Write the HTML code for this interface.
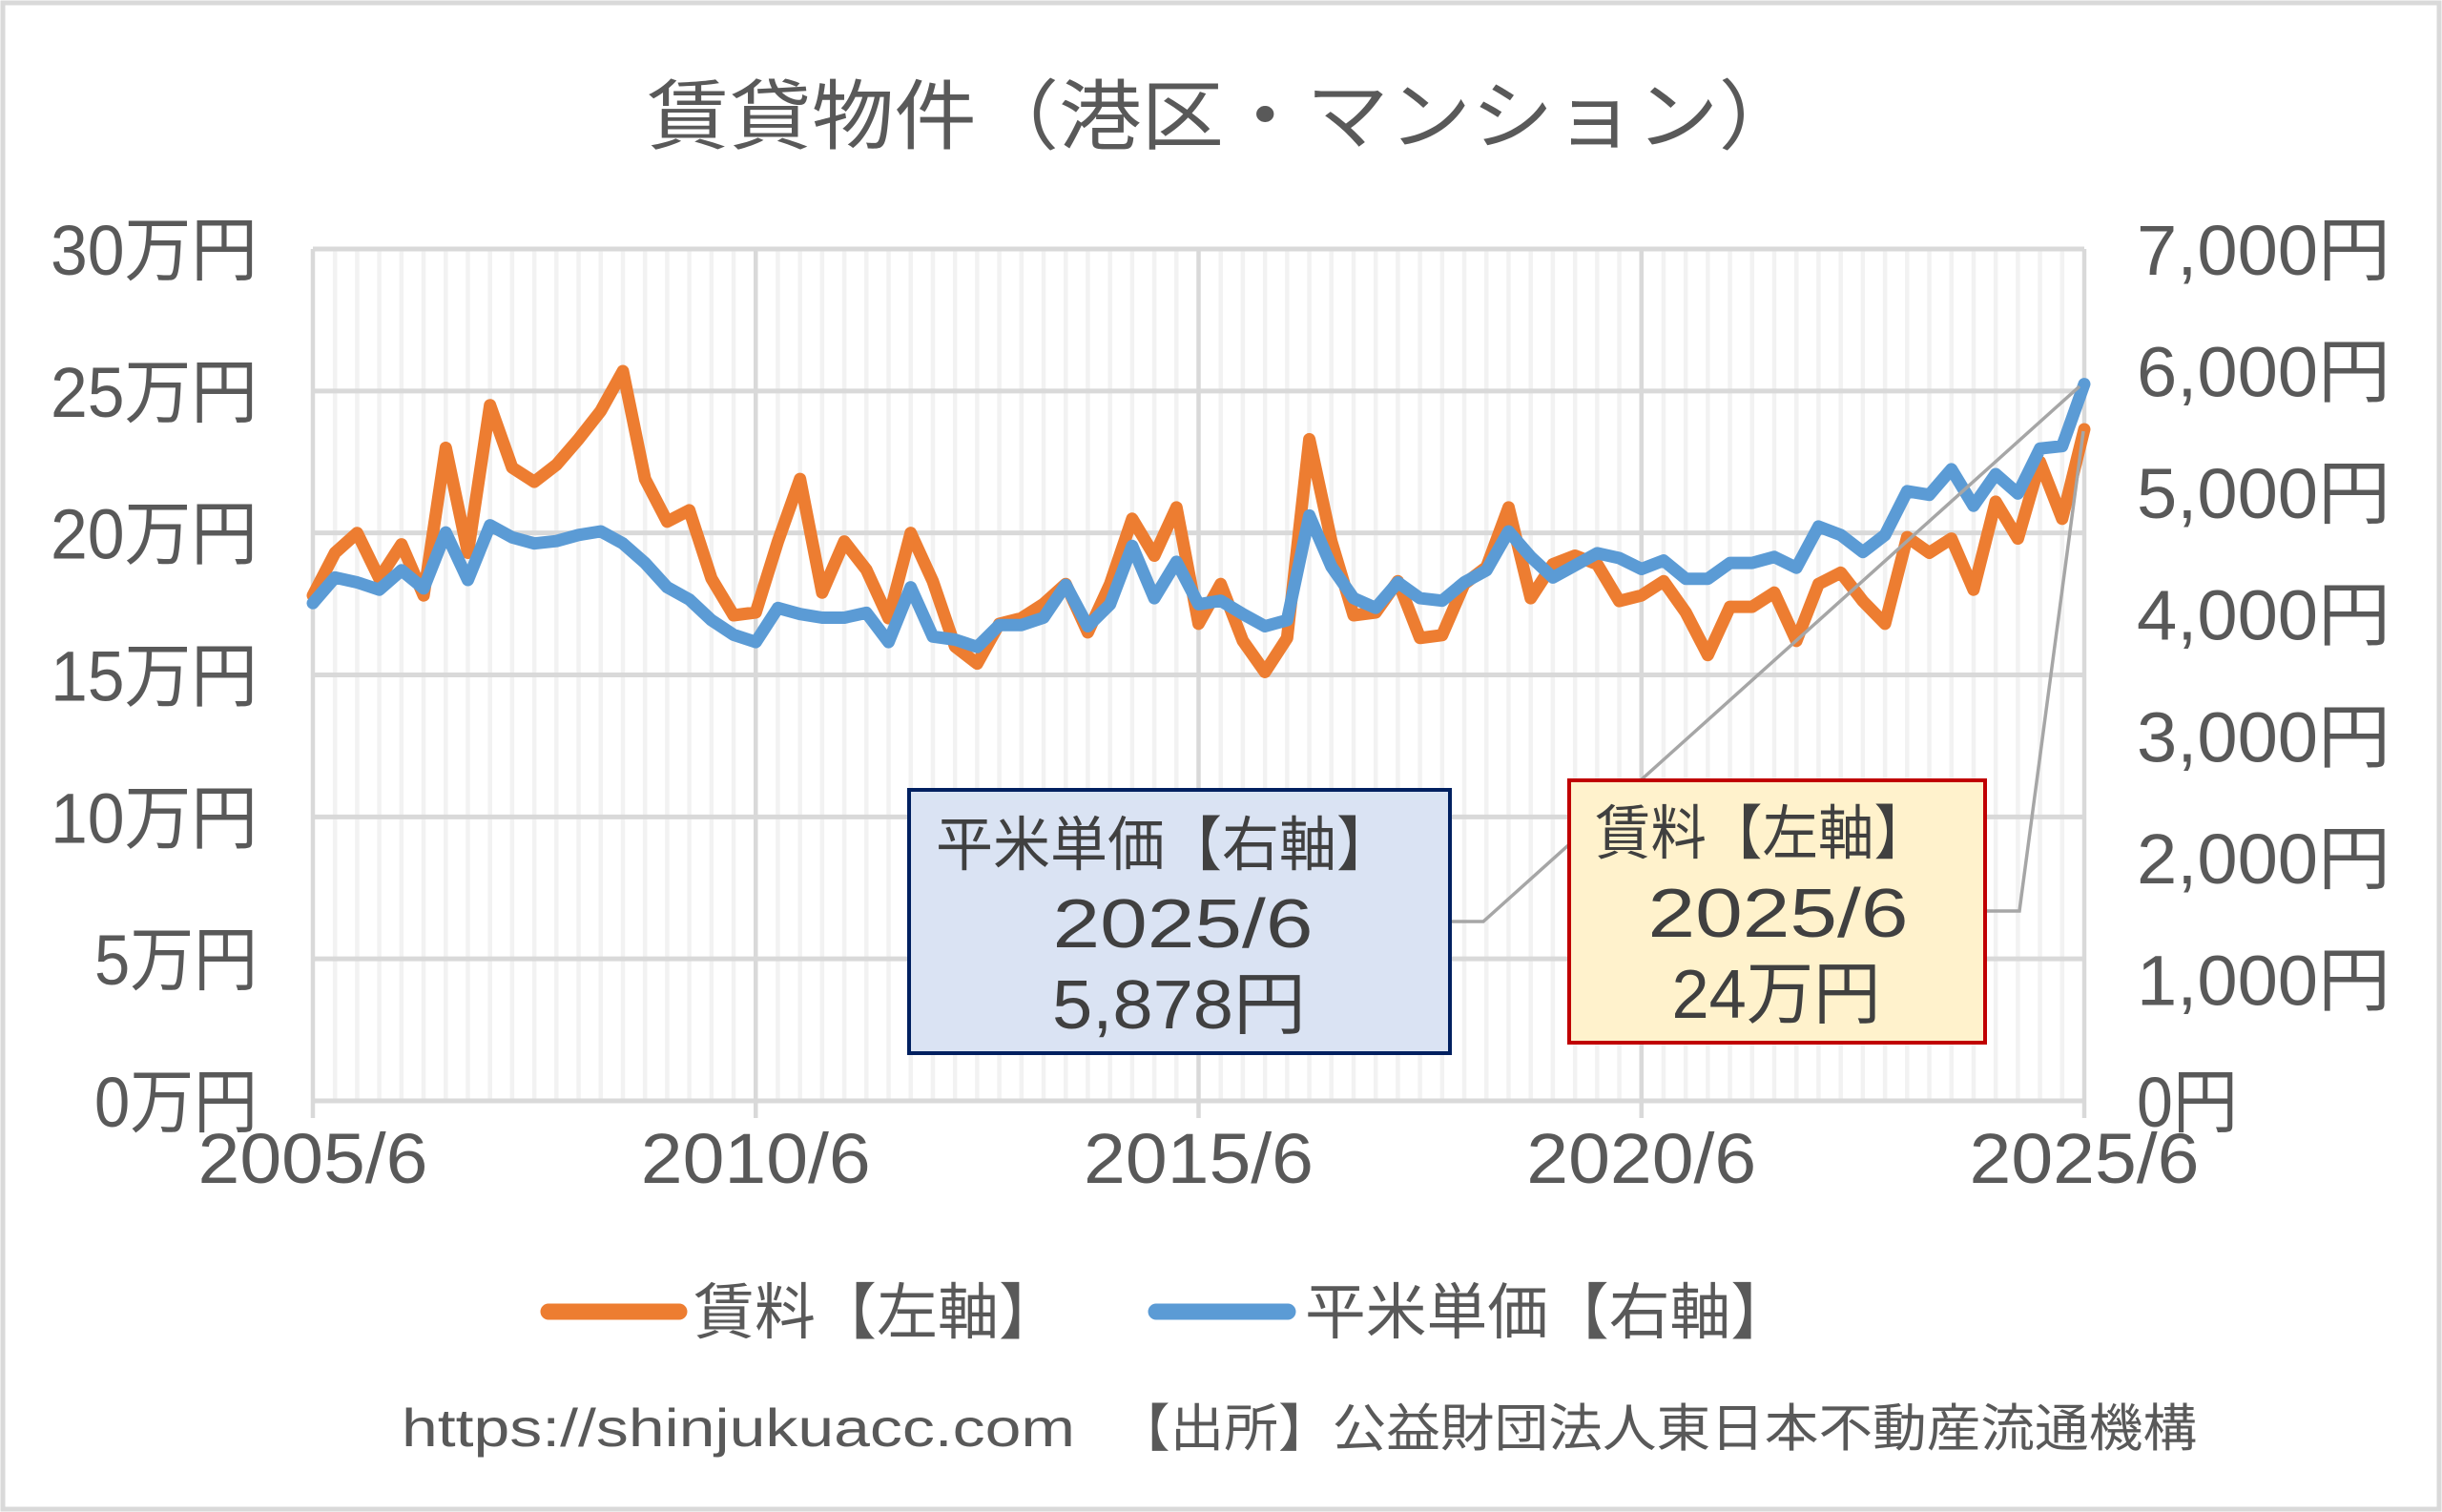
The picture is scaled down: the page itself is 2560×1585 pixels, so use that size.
<!DOCTYPE html>
<html><head><meta charset="utf-8">
<style>
html,body{margin:0;padding:0;background:#fff;}
svg{display:block;}
text{font-family:"Liberation Sans","Noto Sans CJK JP",sans-serif;fill:#595959;}
</style></head>
<body>
<svg id="s" width="2560" height="1585" viewBox="0 0 2560 1585" xmlns="http://www.w3.org/2000/svg">
<rect x="0" y="0" width="2560" height="1585" fill="#fff"/>
<rect x="3" y="3" width="2554" height="1579" fill="none" stroke="#d9d9d9" stroke-width="5"/>
<g id="grid"></g>
<g id="series"></g>
<text x="678" y="150" font-size="80" textLength="1210" lengthAdjust="spacingAndGlyphs">賃貸物件（港区・マンション）</text>
<g id="labels" font-size="74"></g>
<polyline points="1522,966 1555,966 2180,405" fill="none" stroke="#a6a6a6" stroke-width="3.5"/>
<polyline points="2083,955 2117,955 2184,452" fill="none" stroke="#a6a6a6" stroke-width="3.5"/>
<rect x="953" y="828" width="567" height="276" fill="#dae3f3" stroke="#002060" stroke-width="4"/>
<text x="981" y="907" font-size="62" style="fill:#404040" textLength="480" lengthAdjust="spacingAndGlyphs">平米単価【右軸】</text>
<text x="1240" y="993" font-size="72" text-anchor="middle" style="fill:#404040" textLength="273" lengthAdjust="spacingAndGlyphs">2025/6</text>
<text x="1236" y="1078" font-size="72" text-anchor="middle" style="fill:#404040" textLength="266" lengthAdjust="spacingAndGlyphs">5,878円</text>
<rect x="1645" y="818" width="436" height="275" fill="#fff2cc" stroke="#c00000" stroke-width="4"/>
<text x="1672" y="895" font-size="62" style="fill:#404040" textLength="351" lengthAdjust="spacingAndGlyphs">賃料【左軸】</text>
<text x="1864" y="982" font-size="72" text-anchor="middle" style="fill:#404040" textLength="273" lengthAdjust="spacingAndGlyphs">2025/6</text>
<text x="1862" y="1067" font-size="72" text-anchor="middle" style="fill:#404040" textLength="219" lengthAdjust="spacingAndGlyphs">24万円</text>
<line x1="575" y1="1375" x2="712" y2="1375" stroke="#ed7d31" stroke-width="17" stroke-linecap="round"/>
<text x="727" y="1398" font-size="64" textLength="384" lengthAdjust="spacingAndGlyphs">賃料【左軸】</text>
<line x1="1212" y1="1375" x2="1350" y2="1375" stroke="#5b9bd5" stroke-width="17" stroke-linecap="round"/>
<text x="1368" y="1398" font-size="64" textLength="510" lengthAdjust="spacingAndGlyphs">平米単価【右軸】</text>
<text x="421" y="1516" font-size="56" textLength="706" lengthAdjust="spacingAndGlyphs">https://shinjukuacc.com</text>
<text x="1170" y="1516" font-size="54" textLength="1133" lengthAdjust="spacingAndGlyphs">【出所】公益財団法人東日本不動産流通機構</text>
</svg>
<script>
(function(){
var NS="http://www.w3.org/2000/svg";
function el(p,n,a,t){var e=document.createElementNS(NS,n);for(var k in a)e.setAttribute(k,a[k]);if(t!==undefined)e.textContent=t;p.appendChild(e);return e;}
var L=328,R=2185,T=261,B=1154,dx=(R-L)/80;
var g=document.getElementById('grid');
for(var i=0;i<=80;i++){var x=L+i*dx;if(i%20!==0)el(g,'line',{x1:x,y1:T,x2:x,y2:B,stroke:'#f2f2f2','stroke-width':4.5});}
for(var j=0;j<=6;j++){var y=B-j*(B-T)/6;el(g,'line',{x1:L,y1:y,x2:R,y2:y,stroke:'#d9d9d9','stroke-width':5});}
for(var i=0;i<=4;i++){var x=L+i*20*dx;el(g,'line',{x1:x,y1:T,x2:x,y2:B+18,stroke:'#d9d9d9','stroke-width':4.5});}
var o=[17.8,19.3,20.0,18.4,19.6,17.8,23.0,19.3,24.5,22.3,21.8,22.4,23.3,24.3,25.7,21.9,20.4,20.8,18.4,17.1,17.2,19.7,21.9,17.9,19.7,18.7,17.0,20.0,18.3,16.0,15.4,16.8,17.0,17.5,18.2,16.5,18.2,20.5,19.2,20.9,16.8,18.2,16.2,15.1,16.3,23.3,19.7,17.1,17.2,18.3,16.3,16.4,18.2,18.8,20.9,17.7,18.9,19.2,18.9,17.6,17.8,18.3,17.2,15.7,17.4,17.4,17.9,16.2,18.2,18.6,17.6,16.8,19.85,19.3,19.8,18.0,21.1,19.8,22.5,20.5,23.65];
var b=[4090,4300,4260,4200,4360,4210,4670,4280,4730,4630,4580,4600,4650,4680,4580,4420,4220,4120,3950,3830,3770,4050,4000,3970,3970,4010,3770,4220,3815,3790,3730,3910,3910,3970,4240,3900,4080,4560,4130,4430,4080,4110,4000,3900,3950,4810,4390,4130,4050,4260,4130,4110,4260,4360,4680,4470,4300,4400,4500,4460,4370,4440,4290,4290,4420,4420,4470,4380,4720,4650,4510,4650,5010,4980,5190,4890,5150,4990,5360,5380,5890];
var s=document.getElementById('series');
var po=o.map(function(v,i){return (L+i*dx).toFixed(1)+','+(B-v*(B-T)/30).toFixed(1);}).join(' ');
var pb=b.map(function(v,i){return (L+i*dx).toFixed(1)+','+(B-v*(B-T)/7000).toFixed(1);}).join(' ');
el(s,'polyline',{points:po,fill:'none',stroke:'#ed7d31','stroke-width':13,'stroke-linejoin':'round','stroke-linecap':'round'});
el(s,'polyline',{points:pb,fill:'none',stroke:'#5b9bd5','stroke-width':13,'stroke-linejoin':'round','stroke-linecap':'round'});
var lg=document.getElementById('labels');
var ll=['0万円','5万円','10万円','15万円','20万円','25万円','30万円'];
var rl=['0円','1,000円','2,000円','3,000円','4,000円','5,000円','6,000円','7,000円'];
for(var j=0;j<=6;j++){var y=B-j*(B-T)/6;el(lg,'text',{x:270,y:y+27,'text-anchor':'end',textLength:(j<2?171:217),lengthAdjust:'spacingAndGlyphs'},ll[j]);}
for(var j=0;j<=7;j++){var y=B-j*(B-T)/7;el(lg,'text',{x:2240,y:y+27,textLength:(j==0?106:266),lengthAdjust:'spacingAndGlyphs'},rl[j]);}
var xl=['2005/6','2010/6','2015/6','2020/6','2025/6'];
for(var i=0;i<=4;i++){el(lg,'text',{x:L+i*20*dx,y:1240,'text-anchor':'middle',textLength:241,lengthAdjust:'spacingAndGlyphs'},xl[i]);}
})();
</script>
</body></html>
